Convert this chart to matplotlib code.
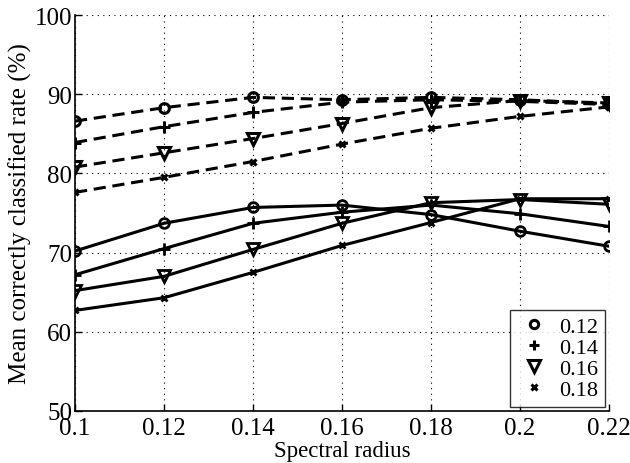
import matplotlib
matplotlib.use('Agg')
import matplotlib.pyplot as plt
from matplotlib.lines import Line2D

# ---------- 数据 ----------
spectral_radius = [0.1, 0.12, 0.14, 0.16, 0.18, 0.2, 0.22]
series_labels = ['0.12', '0.14', '0.16', '0.18']
markers = ['o', '+', 'v', 'x']

# 虚线（上方一组）
dashed_012 = [86.6, 88.3, 89.6, 89.3, 89.6, 89.3, 88.8]
dashed_014 = [83.9, 85.9, 87.7, 89.0, 89.3, 89.1, 88.7]
dashed_016 = [80.8, 82.6, 84.4, 86.3, 88.3, 89.2, 88.9]
dashed_018 = [77.6, 79.5, 81.5, 83.7, 85.7, 87.2, 88.4]

# 实线（下方一组）
solid_012 = [70.2, 73.7, 75.7, 76.0, 74.8, 72.7, 70.8]
solid_014 = [67.2, 70.5, 73.7, 75.1, 76.0, 74.9, 73.3]
solid_016 = [65.2, 67.0, 70.4, 73.7, 76.3, 76.7, 76.1]
solid_018 = [62.7, 64.3, 67.5, 70.9, 73.8, 76.8, 76.8]

dashed = [dashed_012, dashed_014, dashed_016, dashed_018]
solid = [solid_012, solid_014, solid_016, solid_018]

plt.rcParams['font.family'] = ['Liberation Serif', 'DejaVu Serif']

fig = plt.figure(figsize=(6.3, 4.64), dpi=100)
ax = fig.add_axes([75 / 630, 1 - 412 / 464, 534 / 630, 396 / 464])

msize = {'o': 7, '+': 8, 'v': 9, 'x': 5}
for ys, m in zip(dashed, markers):
    ax.plot(spectral_radius, ys, ls='--', dashes=(4, 2.2), color='black', lw=2.2,
            marker=m, ms=msize[m], mew=2.2, mfc='none', mec='black')
for ys, m in zip(solid, markers):
    ax.plot(spectral_radius, ys, ls='-', color='black', lw=2.2,
            marker=m, ms=msize[m], mew=2.0, mfc='none', mec='black')

ax.set_xlim(0.1, 0.22)
ax.set_ylim(50, 100)
ax.set_xticks(spectral_radius)
ax.set_xticklabels(['0.1', '0.12', '0.14', '0.16', '0.18', '0.2', '0.22'])
ax.set_yticks([50, 60, 70, 80, 90, 100])
ax.tick_params(direction='in', labelsize=18, length=5, width=1)
ax.tick_params(axis='x', pad=4)
ax.tick_params(axis='y', pad=2)
ax.grid(True, ls=(0, (1, 4)), color='black', lw=0.8)
for s in ['top', 'right']:
    ax.spines[s].set_visible(False)
for s in ['left', 'bottom']:
    ax.spines[s].set_linewidth(1.2)

ax.set_xlabel('Spectral radius', fontsize=16.5, labelpad=1)
ax.set_ylabel('Mean correctly classified rate (%)', fontsize=18, labelpad=2)

handles = [Line2D([], [], ls='none', marker=m, ms=msize[m] - 1, mew=2.2,
                  mfc='none', mec='black', color='black') for m in markers]
leg = ax.legend(handles, series_labels, loc='lower right', fontsize=16,
                frameon=True, fancybox=False, edgecolor='black',
                handlelength=1.6, handletextpad=0.3, borderpad=0.3,
                labelspacing=0.02, borderaxespad=0.2)
leg.get_frame().set_linewidth(1.0)

fig.savefig('out.png', dpi=100)
